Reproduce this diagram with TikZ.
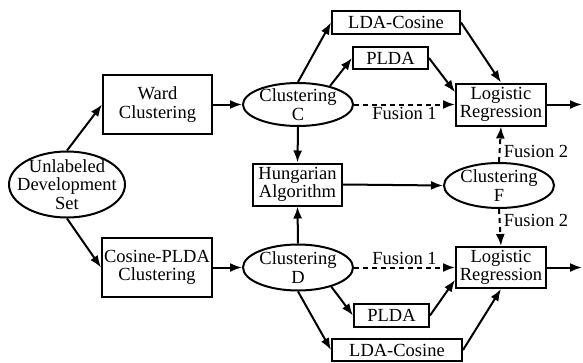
\documentclass[tikz,border=0pt]{standalone}
\usepackage{fontspec}
\setmainfont{Liberation Serif}
\usetikzlibrary{arrows.meta,shapes.geometric}
\tikzset{
	procbox/.style={draw, line width=2pt, rectangle, align=center, inner sep=0pt},
	clusell/.style={draw, line width=2pt, ellipse, inner sep=0pt, minimum width=110pt},
	flow/.style={line width=2pt, -{Latex[length=12pt,width=9pt]}},
	fuse/.style={flow, dash pattern=on 5pt off 4pt},
}

\begin{document}
\begin{tikzpicture}[x=1pt, y=-1pt, font={\fontsize{18.5}{18.5}\selectfont}]
			%%%%% START %%%%%
			\useasboundingbox (0,0) rectangle (583,362);
			
			\node[clusell, minimum width=116pt, minimum height=66pt, label={[align=center]center:Unlabeled\\Development\\Set}] (dev) at (67,184.5) {};
			
			\node[procbox, minimum width=109pt, minimum height=59pt] (ward) at (157.5,104.5) {Ward\\Clustering};
			\node[procbox, minimum width=110pt, minimum height=59pt] (cplda) at (157,267.5) {Cosine-PLDA\\Clustering};
			
			\node[clusell, minimum height=43pt, label={[align=center]center:Clustering\\C}] (clC) at (298,104.5) {};
			\node[clusell, minimum height=46pt, label={[align=center]center:Clustering\\D}] (clD) at (298,267.5) {};
			\node[procbox, minimum width=89pt, minimum height=42pt] (hung) at (297.5,184.5) {Hungarian\\Algorithm};
			\node[clusell, minimum height=45pt, label={[align=center]center:Clustering\\F}] (clF) at (499,185.5) {};
			
			\node[procbox, minimum width=128pt, minimum height=23pt] (ldaC) at (396,22.5) {LDA-Cosine};
			\node[procbox, minimum width=75pt, minimum height=22pt] (pldaC) at (390.5,58) {PLDA};
			\node[procbox, minimum width=75pt, minimum height=23pt] (pldaD) at (391.5,315.5) {PLDA};
			\node[procbox, minimum width=130pt, minimum height=22pt] (ldaD) at (397,350) {LDA-Cosine};
			
			\node[procbox, minimum width=90pt, minimum height=42pt] (lrC) at (501,104.5) {Logistic\\Regression};
			\node[procbox, minimum width=90pt, minimum height=41pt] (lrD) at (501,267.5) {Logistic\\Regression};
			\coordinate (outC) at (582,104.5);
			\coordinate (outD) at (582,267.5);
			
			\draw[flow] (dev.north) -- (ward.west);
			\draw[flow] (dev.south) -- (cplda.west);
			\draw[flow] (ward.east) -- (clC.west);
			\draw[flow] (cplda.east) -- (clD.west);
			
			\draw[flow] (clC.south) -- (hung.north);
			\draw[flow] (clD.north) -- (hung.south);
			\draw[flow] (hung.east) -- (clF.west);
			
			\draw[flow] (clC.north) -- (ldaC.west);
			\draw[flow] (clC.30) -- (pldaC.west);
			\draw[flow] (ldaC.east) -- (lrC.north);
			\draw[flow] (pldaC.east) -- (lrC.165);
			\draw[fuse] (clC.east) -- node[below, inner sep=2pt] {Fusion 1} (lrC.west);
			
			\draw[flow] (clD.south) -- (ldaD.west);
			\draw[flow] (clD.-30) -- (pldaD.west);
			\draw[flow] (ldaD.east) -- (lrD.south);
			\draw[flow] (pldaD.east) -- (lrD.195);
			\draw[fuse] (clD.east) -- node[above, inner sep=2pt] {Fusion 1} (lrD.west);
			
			\draw[fuse] (clF.north) -- node[right, pos=0.3] {Fusion 2} (lrC.south);
			\draw[fuse] (clF.south) -- node[right, pos=0.3] {Fusion 2} (lrD.north);
			
			\draw[flow] (lrC.east) -- (outC);
			\draw[flow] (lrD.east) -- (outD);
			
			%%%%% END %%%%%
\end{tikzpicture}
\end{document}
